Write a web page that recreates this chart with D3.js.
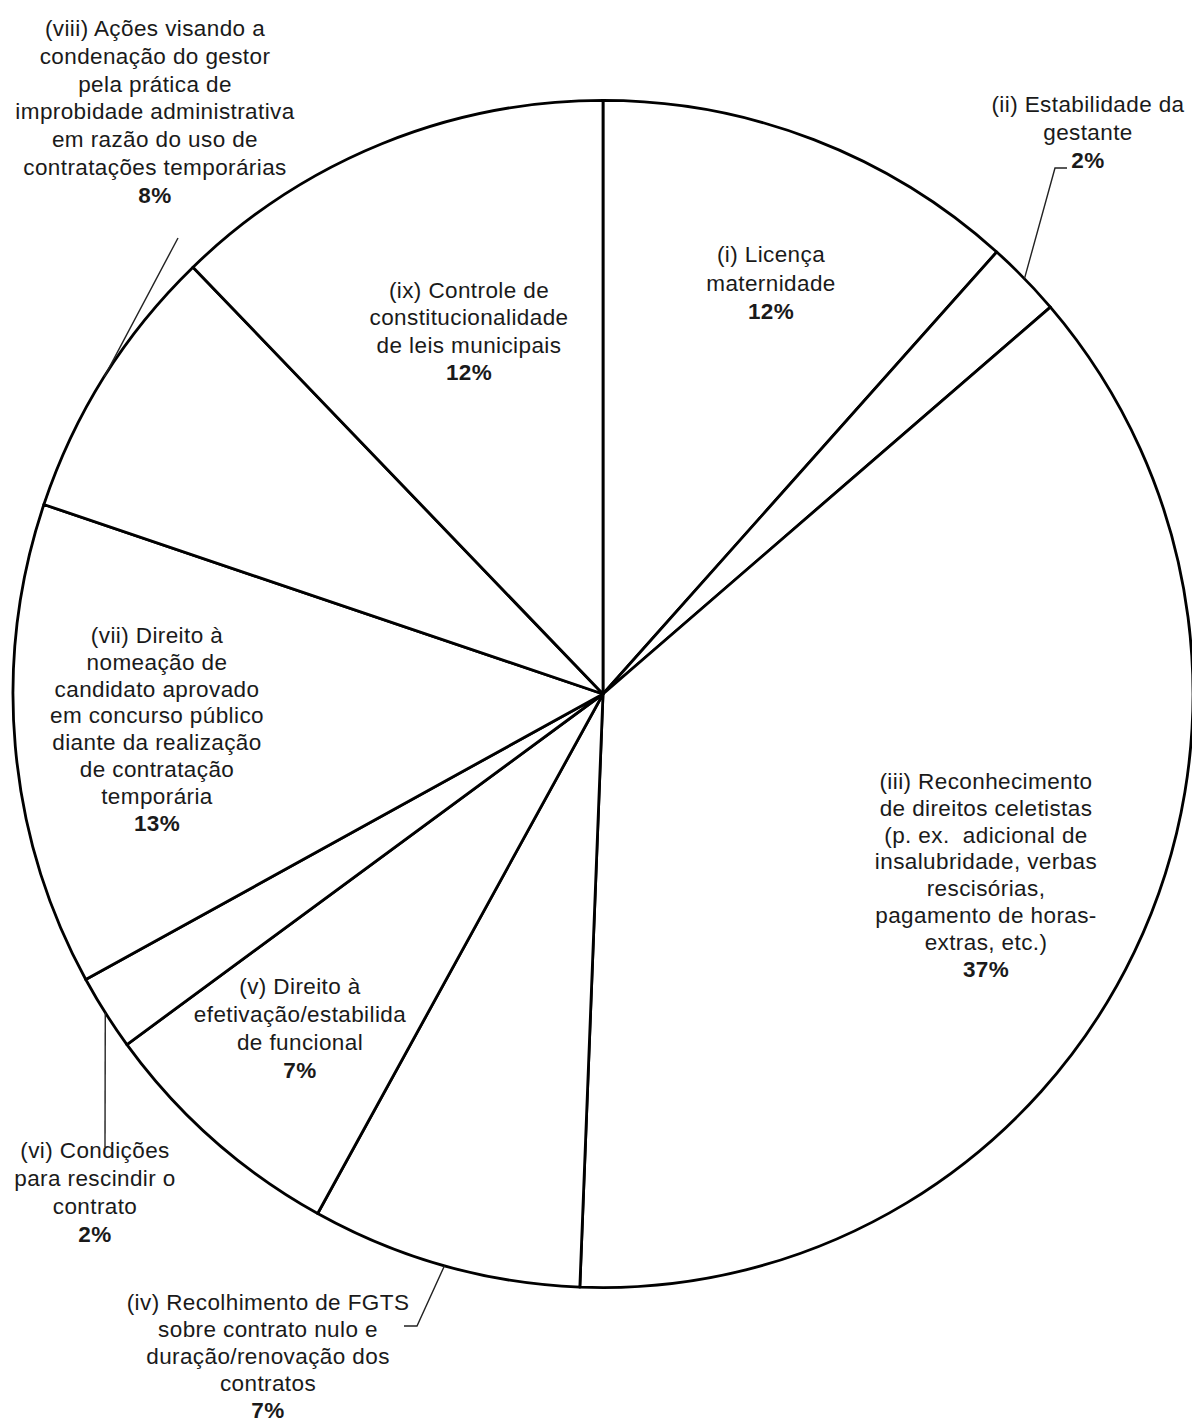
<!DOCTYPE html>
<html>
<head>
<meta charset="utf-8">
<script src="https://cdn.jsdelivr.net/npm/d3@7"></script>
<style>
  html, body { margin: 0; padding: 0; background: #fff; }
  svg { display: block; }
  text { font-family: "Liberation Sans", Arial, sans-serif; font-size: 22.5px; fill: #1a1a1a; letter-spacing: 0.4px; white-space: pre; }
  text .pct { font-weight: bold; }
</style>
</head>
<body>
<script>
// ---- data ----
const categories = [
  ["(i) Licença", "maternidade"],
  ["(ii) Estabilidade da", "gestante"],
  ["(iii) Reconhecimento", "de direitos celetistas", "(p. ex.  adicional de", "insalubridade, verbas", "rescisórias,", "pagamento de horas-", "extras, etc.)"],
  ["(iv) Recolhimento de FGTS", "sobre contrato nulo e", "duração/renovação dos", "contratos"],
  ["(v) Direito à", "efetivação/estabilida", "de funcional"],
  ["(vi) Condições", "para rescindir o", "contrato"],
  ["(vii) Direito à", "nomeação de", "candidato aprovado", "em concurso público", "diante da realização", "de contratação", "temporária"],
  ["(viii) Ações visando a", "condenação do gestor", "pela prática de", "improbidade administrativa", "em razão do uso de", "contratações temporárias"],
  ["(ix) Controle de", "constitucionalidade", "de leis municipais"]
];
const values = [11.63, 2.07, 36.93, 7.41, 6.91, 2.07, 13.16, 7.6, 12.23];
const pctLabels = ["12%", "2%", "37%", "7%", "7%", "2%", "13%", "8%", "12%"];

// ---- layout ----
const W = 1192, H = 1423;
const cx = 603, cy = 694, R = 590, yScale = 1.006;
// label anchor: center x, first baseline, line spacing
const labelPos = [
  {x: 771, y: 262, dy: 28.5},
  {x: 1088, y: 112, dy: 28},
  {x: 986, y: 789, dy: 26.8},
  {x: 268, y: 1310, dy: 27},
  {x: 300, y: 994, dy: 28},
  {x: 95, y: 1158, dy: 27.9},
  {x: 157, y: 643, dy: 26.8},
  {x: 155, y: 36, dy: 27.8},
  {x: 469, y: 298, dy: 27.4}
];
// leader elbows (from slice arc midpoint)
const leaders = {
  1: [[1055, 168], [1067, 168]],
  3: [[417, 1326], [404, 1326]],
  5: [[105, 1147]],
  7: [[178, 238]]
};

const svg = d3.select("body").append("svg").attr("width", W).attr("height", H);

const pie = d3.pie().sort(null).value(d => d).startAngle(0).endAngle(2 * Math.PI);
const arcs = pie(values);
const arc = d3.arc().innerRadius(0).outerRadius(R);

const g = svg.append("g").attr("transform", `translate(${cx},${cy}) scale(1,${yScale})`);
g.selectAll("path.slice").data(arcs).join("path")
  .attr("class", "slice")
  .attr("d", arc)
  .attr("fill", "#fff")
  .attr("stroke", "#000")
  .attr("stroke-width", 2.8)
  .attr("stroke-linejoin", "round");

// leader lines
const lineGen = d3.line();
Object.keys(leaders).forEach(k => {
  const a = arcs[+k];
  const mid = (a.startAngle + a.endAngle) / 2;
  const p0 = [cx + R * Math.sin(mid), cy - R * yScale * Math.cos(mid)];
  svg.append("path")
    .attr("d", lineGen([p0, ...leaders[k]]))
    .attr("fill", "none")
    .attr("stroke", "#222")
    .attr("stroke-width", 1.4);
});

// labels
categories.forEach((lines, i) => {
  const p = labelPos[i];
  const t = svg.append("text").attr("text-anchor", "middle");
  lines.forEach((ln, j) => {
    t.append("tspan").attr("x", p.x).attr("y", p.y + j * p.dy).text(ln);
  });
  t.append("tspan").attr("class", "pct").attr("x", p.x).attr("y", p.y + lines.length * p.dy).text(pctLabels[i]);
});
</script>
</body>
</html>
